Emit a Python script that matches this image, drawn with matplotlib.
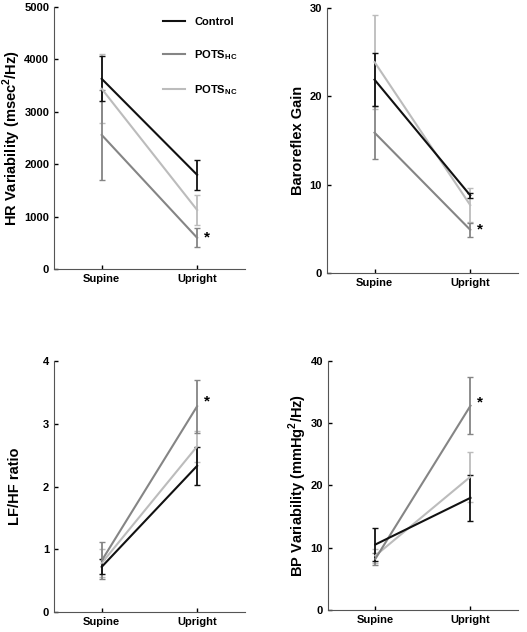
import matplotlib.pyplot as plt
from matplotlib.lines import Line2D
import numpy as np

plt.rcParams['font.family'] = ['Liberation Sans', 'DejaVu Sans']
plt.rcParams['font.weight'] = 'bold'
plt.rcParams['mathtext.fontset'] = 'custom'
plt.rcParams['mathtext.rm'] = 'Liberation Sans:bold'
plt.rcParams['mathtext.bf'] = 'Liberation Sans:bold'

positions = ['Supine', 'Upright']
groups = ['Control', 'POTS$_{\\mathbf{HC}}$', 'POTS$_{\\mathbf{NC}}$']
colors = ['#111111', '#858585', '#bcbcbc']

# mean values per group (Control, POTS_HC, POTS_NC), each [Supine, Upright]
hrv_mean = [[3630, 1800], [2560, 600], [3440, 1130]]
hrv_err = [[430, 290], [860, 180], [660, 290]]

baro_mean = [[21.9, 8.8], [15.9, 4.9], [23.9, 7.7]]
baro_err = [[3.0, 0.3], [3.0, 0.8], [5.3, 1.9]]

lfhf_mean = [[0.72, 2.33], [0.82, 3.28], [0.78, 2.64]]
lfhf_err = [[0.12, 0.30], [0.29, 0.42], [0.22, 0.25]]

bpv_mean = [[10.5, 18.0], [8.2, 32.8], [8.7, 21.4]]
bpv_err = [[2.7, 3.7], [1.0, 4.6], [1.1, 4.0]]

panels = [
    ([0.1025, 0.574, 0.362, 0.415], hrv_mean, hrv_err, 'HR Variability (msec$^{\\mathbf{2}}$/Hz)', (0, 5000), [0, 1000, 2000, 3000, 4000, 5000], 600, -0.16),
    ([0.620, 0.568, 0.363, 0.419], baro_mean, baro_err, 'Baroreflex Gain', (0, 30), [0, 10, 20, 30], 4.9, -0.115),
    ([0.1025, 0.0316, 0.362, 0.397], lfhf_mean, lfhf_err, 'LF/HF ratio', (0, 4), [0, 1, 2, 3, 4], 3.35, -0.17),
    ([0.622, 0.035, 0.361, 0.394], bpv_mean, bpv_err, 'BP Variability (mmHg$^{\\mathbf{2}}$/Hz)', (0, 40), [0, 10, 20, 30, 40], 33.3, -0.10),
]

fig = plt.figure(figsize=(5.27, 6.32), dpi=100)
x = np.arange(len(positions))

for i, (rect, means, errs, ylabel, ylim, yticks, star_y, lab_x) in enumerate(panels):
    ax = fig.add_axes(rect)
    for k in [2, 1, 0]:
        ax.errorbar(x, means[k], yerr=errs[k], color=colors[k], lw=1.5,
                    elinewidth=1.3, capsize=2, capthick=1)
    ax.set_xlim(-0.5, 1.5)
    ax.set_ylim(*ylim)
    ax.set_yticks(yticks)
    ax.set_xticks(x)
    ax.set_xticklabels(positions)
    ax.set_ylabel(ylabel, fontsize=10.5, fontweight='bold')
    ax.yaxis.set_label_coords(lab_x, 0.5)
    ax.tick_params(labelsize=8, length=3, direction='in', width=1)
    for s in ['top', 'right']:
        ax.spines[s].set_visible(False)
    for s in ['left', 'bottom']:
        ax.spines[s].set_color('#555555')
    ax.text(1.1, star_y, '*', fontsize=11, ha='center', va='center')
    if i == 0:
        handles = [Line2D([], [], color=c, lw=1.5) for c in colors]
        ax.legend(handles, groups, loc='upper left', bbox_to_anchor=(0.52, 1.0),
                  frameon=False, fontsize=8, labelspacing=1.9, handlelength=2.0)

fig.savefig('out.png', dpi=100)
